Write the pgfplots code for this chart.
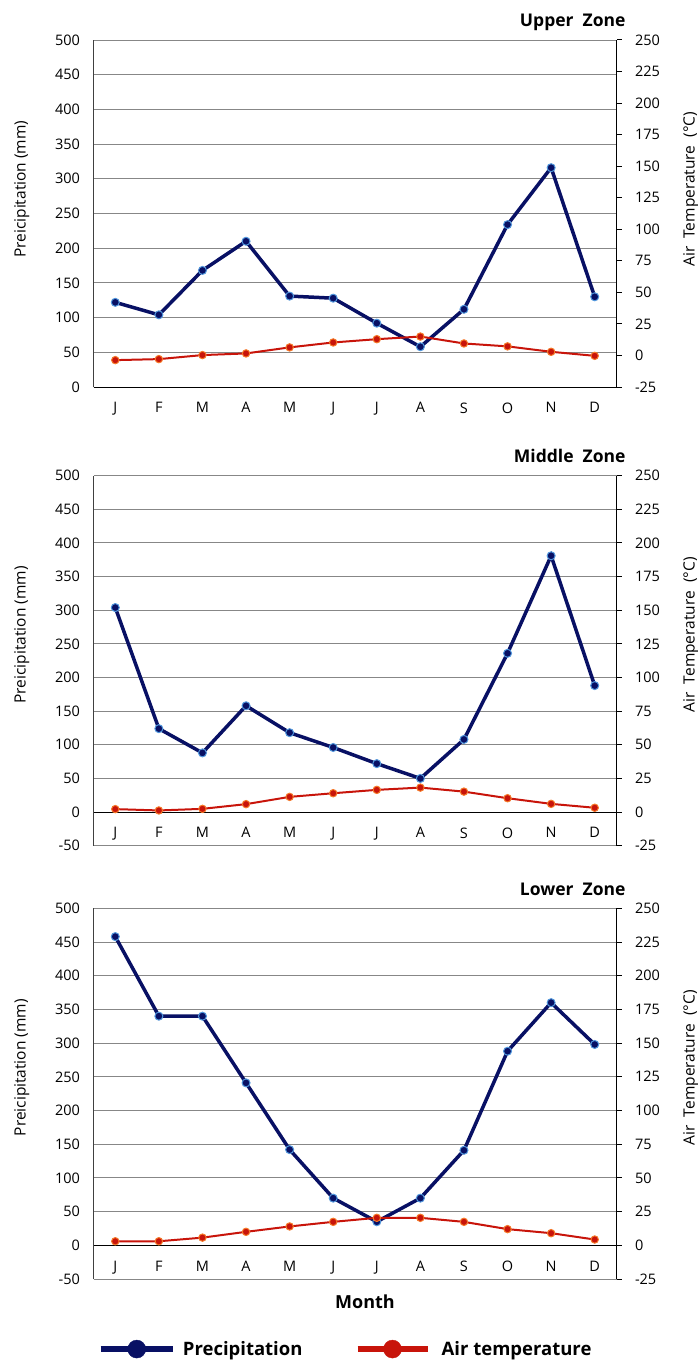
\documentclass[border=0pt]{standalone}
\usepackage{pgfplots}
\usepackage{pgfplotstable}
\pgfplotsset{compat=1.18}
\usepackage{fontspec}
\setmainfont{Open Sans}

\definecolor{prc}{RGB}{8,16,100}
\definecolor{prcedge}{RGB}{80,150,220}
\definecolor{tmp}{RGB}{200,20,10}
\definecolor{tmpedge}{RGB}{245,120,40}
\definecolor{gridc}{RGB}{135,135,135}

% precipitation (mm), left axis
\pgfplotstableread{
m up mid low
0 122 304 458
1 104 124 340
2 168 88 340
3 210 158 241
4 131 118 142
5 128 96 70
6 92 72 35
7 58 50 70
8 112 108 141
9 234 236 288
10 316 381 360
11 130 188 298
}\precip

% air temperature (C), right axis
\pgfplotstableread{
m up mid low
0 -3.7 2.2 3
1 -2.9 1.2 3
2 0.3 2.4 5.7
3 1.6 5.9 10
4 6.4 11.3 14
5 10.3 14 17.4
6 12.9 16.5 20.4
7 15 18.2 20.4
8 9.5 15.2 17.4
9 7.2 10.3 12
10 2.9 6.1 9
11 -0.3 3.2 4.3
}\temp

\pgfplotsset{
  every axis title shift=0pt,
  base/.style={scale only axis, width=523bp, xmin=-0.5, xmax=11.5,
    tick label style={font=\fontsize{14.5bp}{16bp}\selectfont},
    /pgf/number format/assume math mode=true},
  leftax/.style={base, axis y line*=left, axis x line*=middle,
    x axis line style={-, black, line width=1bp},
    y axis line style={-, black!75, line width=1bp},
    xtick={0,...,11}, xticklabels={J,F,M,A,M,J,J,A,S,O,N,D},
    xtick style={draw=none}, ytick style={draw=none},
    xticklabel style={yshift=-12bp},
    yticklabel style={xshift=-10bp},
    ymajorgrids, grid style={gridc, line width=1bp},
    ymax=500, ytick distance=50,
    ylabel={Preicipitation (mm)},
    every axis y label/.style={at={(axis description cs:-0.137,0.57)}, rotate=90, anchor=center,
      font=\fontsize{15.5bp}{18bp}\selectfont},
    title style={anchor=east, font=\bfseries\fontsize{17.5bp}{20bp}\selectfont}},
  rightax/.style={base, axis y line*=right, axis x line=none,
    ymin=-25, ymax=250, ytick distance=25,
    y axis line style={-, black, line width=1bp},
    tick align=outside, major tick length=5bp, ytick style={black, line width=1bp},
    yticklabel style={xshift=10bp},
    ylabel={Air\ \ Temperature\ \ (°C)},
    every axis y label/.style={at={(axis description cs:1.142,0.57)}, rotate=90, anchor=center,
      font=\fontsize{15.5bp}{18bp}\selectfont}},
  pr/.style={prc, line width=3.5bp, mark=*, mark size=4bp,
    mark options={fill=prc, draw=prcedge, line width=1bp}},
  tp/.style={tmp, line width=2bp, mark=*, mark size=3.7bp,
    mark options={fill=tmp, draw=tmpedge, line width=1bp}},
}

\begin{document}
\begin{tikzpicture}
\useasboundingbox (0,0) rectangle (698bp,-1361bp);

% Upper zone
\begin{axis}[leftax, at={(93.5bp,-387bp)}, anchor=south west, height=347bp, ymin=0,
  title={Upper\ \ Zone}, title style={at={(axis description cs:1.024,1.05)}}]
  \addplot[pr] table[x=m,y=up]{\precip};
\end{axis}
\begin{axis}[rightax, at={(93.5bp,-387bp)}, anchor=south west, height=347bp]
  \addplot[tp] table[x=m,y=up]{\temp};
\end{axis}

% Middle zone
\begin{axis}[leftax, at={(93.5bp,-845.7bp)}, anchor=south west, height=370bp, ymin=-50,
  title={Middle\ \ Zone}, title style={at={(axis description cs:1.024,1.053)}}]
  \addplot[pr] table[x=m,y=mid]{\precip};
\end{axis}
\begin{axis}[rightax, at={(93.5bp,-845.7bp)}, anchor=south west, height=370bp]
  \addplot[tp] table[x=m,y=mid]{\temp};
\end{axis}

% Lower zone
\begin{axis}[leftax, at={(93.5bp,-1279bp)}, anchor=south west, height=370.7bp, ymin=-50,
  title={Lower\ \ Zone}, title style={at={(axis description cs:1.024,1.05)}},
  xlabel={Month},
  xlabel style={at={(axis description cs:0.519,-0.062)}, anchor=center,
    font=\bfseries\fontsize{18bp}{20bp}\selectfont},
  legend columns=2,
  legend style={at={(axis description cs:0.482,-0.189)}, anchor=center, draw=none, fill=none,
    font=\bfseries\fontsize{18.5bp}{20bp}\selectfont,
    /tikz/every even column/.append style={column sep=50bp}}]
  \addplot[pr, forget plot] table[x=m,y=low]{\precip};
  \addlegendimage{legend image code/.code={
    \draw[prc, line width=6bp] (0bp,0bp) -- (72bp,0bp);
    \fill[prc] (36bp,0bp) circle (9bp);
    \path (80bp,0bp);}}
  \addlegendentry{Precipitation}
  \addlegendimage{legend image code/.code={
    \draw[tmp, line width=6bp] (0bp,0bp) -- (70bp,0bp);
    \fill[tmp] (35bp,0bp) circle (9bp);
    \path (82bp,0bp);}}
  \addlegendentry{Air temperature}
\end{axis}
\begin{axis}[rightax, at={(93.5bp,-1279bp)}, anchor=south west, height=370.7bp]
  \addplot[tp] table[x=m,y=low]{\temp};
\end{axis}
\end{tikzpicture}
\end{document}
